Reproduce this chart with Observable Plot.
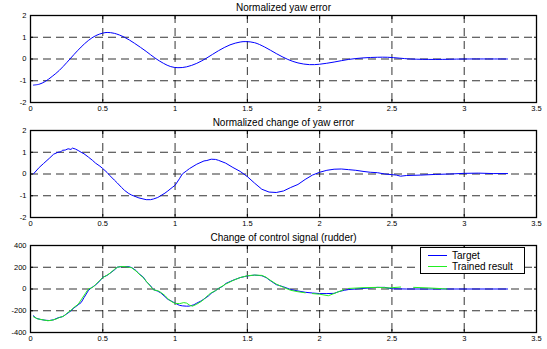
<!DOCTYPE html>
<html><head><meta charset="utf-8">
<script src="https://cdn.jsdelivr.net/npm/d3@7"></script>
<script src="https://cdn.jsdelivr.net/npm/@observablehq/plot@0.6"></script>
<style>
body{margin:0;background:#fff;}
#wrap{position:relative;width:547px;height:349px;overflow:hidden;}
#wrap svg{display:block;}
.legend{position:absolute;left:420px;top:247px;width:105px;height:27px;box-sizing:border-box;border:1px solid #000;background:#fff;font:10px "Liberation Sans",Arial,sans-serif;color:#000;}
.legend .row{position:absolute;left:0;height:11px;line-height:11px;white-space:nowrap;}
.legend .sw{position:absolute;left:7px;top:5px;width:19px;height:0;border-top:1px solid;}
.legend .lab{position:absolute;left:31px;top:0;}
</style></head>
<body>
<div id="wrap"></div>
<script>
const xTicks = [0, 0.5, 1, 1.5, 2, 2.5, 3, 3.5];
const normTicks = [-2, -1, 0, 1, 2];
const ctrlTicks = [-400, -200, 0, 200, 400];
const titles = ["Normalized yaw error", "Normalized change of yaw error", "Change of control signal (rudder)"];
const legendLabels = ["Target", "Trained result"];
const colors = ["#0000ff", "#22ee22"];

const yawX = [0.02,0.06,0.1,0.15,0.2,0.25,0.3,0.35,0.4,0.45,0.5,0.53,0.58,0.65,0.72,0.8,0.86,0.92,0.97,1.02,1.08,1.15,1.22,1.3,1.38,1.45,1.49,1.55,1.62,1.7,1.78,1.85,1.93,2.0,2.1,2.2,2.3,2.4,2.47,2.55,2.63,2.8,3.0,3.3];
const yawY = [-1.2,-1.16,-1.04,-0.8,-0.52,-0.17,0.2,0.55,0.85,1.07,1.19,1.22,1.18,1.0,0.72,0.35,0.05,-0.2,-0.35,-0.4,-0.36,-0.2,0.05,0.38,0.65,0.78,0.8,0.75,0.55,0.25,-0.02,-0.18,-0.26,-0.24,-0.14,-0.02,0.05,0.08,0.08,0.04,0.0,-0.02,0.0,0.0];

const dyawX = [0.02,0.06,0.09,0.13,0.16,0.19,0.21,0.22,0.24,0.26,0.28,0.29,0.31,0.33,0.35,0.37,0.4,0.43,0.45,0.48,0.5,0.53,0.55,0.58,0.6,0.63,0.65,0.68,0.7,0.75,0.8,0.83,0.85,0.88,0.9,0.93,0.95,0.98,1.0,1.03,1.05,1.08,1.1,1.15,1.2,1.22,1.25,1.28,1.3,1.35,1.4,1.45,1.5,1.55,1.6,1.65,1.7,1.75,1.8,1.85,1.9,1.95,2.0,2.05,2.1,2.15,2.2,2.25,2.3,2.35,2.4,2.45,2.5,2.53,2.56,2.6,2.7,2.8,2.9,3.0,3.1,3.2,3.3];
const dyawY = [0,0.3,0.48,0.72,0.91,1.0,1.02,1.09,1.1,1.16,1.13,1.19,1.15,1.08,1.0,0.93,0.78,0.62,0.5,0.36,0.25,0.07,-0.08,-0.28,-0.41,-0.62,-0.75,-0.9,-0.97,-1.1,-1.18,-1.18,-1.15,-1.08,-1.0,-0.88,-0.78,-0.62,-0.52,-0.22,0.0,0.15,0.25,0.45,0.6,0.62,0.68,0.67,0.63,0.5,0.3,0.12,-0.12,-0.42,-0.7,-0.83,-0.85,-0.78,-0.62,-0.48,-0.25,-0.05,0.08,0.17,0.22,0.23,0.2,0.17,0.12,0.08,0.06,0.0,-0.03,-0.05,-0.1,-0.07,-0.05,-0.02,0.0,0.03,0.04,0.02,0.02];

const targetX = [0.02,0.04,0.07,0.1,0.13,0.16,0.19,0.22,0.25,0.28,0.3,0.33,0.35,0.37,0.4,0.42,0.45,0.48,0.5,0.53,0.55,0.58,0.6,0.62,0.65,0.68,0.7,0.73,0.75,0.78,0.8,0.83,0.85,0.88,0.9,0.93,0.95,0.98,1.0,1.03,1.05,1.08,1.1,1.13,1.15,1.18,1.2,1.23,1.25,1.28,1.3,1.33,1.35,1.4,1.45,1.5,1.55,1.6,1.63,1.65,1.7,1.75,1.8,1.85,1.9,1.95,2.0,2.05,2.1,2.13,2.17,2.2,2.3,2.4,2.45,2.5,2.6,2.8,3.0,3.3];
const targetY = [-246,-270,-280,-287,-290,-283,-265,-255,-230,-200,-175,-145,-125,-80,-15,10,37,75,108,125,145,175,200,205,206,205,197,170,140,110,70,30,-5,-20,-35,-70,-95,-115,-130,-150,-155,-158,-157,-145,-130,-110,-92,-65,-40,-15,5,25,50,80,105,120,128,122,105,85,40,20,-5,-18,-30,-37,-42,-42,-40,-25,-12,-5,5,15,15,2,0,0,0,0];

const trainedSeg = [1,1,1,1,1,1,1,1,1,1,1,1,1,1,1,1,1,1,1,1,1,1,1,1,1,1,1,1,1,1,1,1,1,1,1,1,1,1,1,1,1,1,1,1,1,1,1,1,1,1,1,1,1,1,1,1,1,1,1,1,1,1,1,2,2,2,2,2,3,3,3,3,3,4,4,4,4];
const trainedX = [0.02,0.05,0.08,0.12,0.15,0.18,0.2,0.23,0.25,0.28,0.3,0.33,0.35,0.38,0.4,0.43,0.45,0.48,0.5,0.53,0.55,0.58,0.6,0.63,0.66,0.7,0.73,0.75,0.78,0.8,0.83,0.85,0.88,0.9,0.93,0.95,0.98,1.0,1.03,1.06,1.08,1.1,1.12,1.15,1.18,1.2,1.23,1.25,1.28,1.3,1.35,1.4,1.45,1.5,1.55,1.6,1.63,1.65,1.7,1.75,1.8,1.85,1.9,1.95,2.0,2.03,2.06,2.17,2.2,2.3,2.4,2.48,2.56,2.65,2.75,2.85,2.88,2.98,3.1,3.2,3.3];
const trainedY = [-255,-275,-282,-292,-287,-275,-262,-250,-225,-195,-170,-140,-100,-40,0,15,40,80,105,128,145,180,200,207,205,195,165,138,105,72,25,-8,-15,-30,-60,-90,-120,-132,-135,-125,-130,-148,-158,-140,-115,-95,-55,-35,-15,5,45,78,105,122,128,125,108,88,45,15,-12,-25,-35,-42,-48,-55,-62,-5,5,12,15,10,18,15,10,3,0,0,2,3,0];

function panel(title, yDomain, yTicks, lineMarks) {
  const gridStyle = {stroke: "#000", strokeOpacity: 0.8, strokeWidth: 1, strokeDasharray: "8,5"};
  const blank = () => "";
  return Plot.plot({
    width: 547, height: 115,
    marginLeft: 30, marginRight: 11, marginTop: 15, marginBottom: 13,
    style: {fontFamily: "'Liberation Sans', Arial, sans-serif", fontSize: "7.5px", background: "#fff", color: "#000", overflow: "visible"},
    x: {domain: [xTicks[0], xTicks[xTicks.length - 1]], label: null},
    y: {domain: yDomain, label: null},
    marks: [
      Plot.gridX(xTicks.slice(1, -1), gridStyle),
      Plot.gridY(yTicks.slice(1, -1), gridStyle),
      ...lineMarks,
      Plot.axisX(xTicks, {anchor: "bottom", tickSize: 0, tickPadding: 3, tickFormat: d => String(d), label: null}),
      Plot.axisX(xTicks, {anchor: "bottom", tickSize: -3, tickFormat: blank, label: null}),
      Plot.axisX(xTicks, {anchor: "top", tickSize: -3, tickFormat: blank, label: null}),
      Plot.axisY(yTicks, {anchor: "left", tickSize: 0, tickPadding: 4, tickFormat: d => String(d), label: null}),
      Plot.axisY(yTicks, {anchor: "left", tickSize: -3, tickFormat: blank, label: null}),
      Plot.axisY(yTicks, {anchor: "right", tickSize: -3, tickFormat: blank, label: null}),
      Plot.frame({stroke: "#000", strokeWidth: 1.3}),
      Plot.text([title], {text: d => d, frameAnchor: "top", lineAnchor: "bottom", dy: -5, fontSize: 10})
    ]
  });
}

const wrap = document.getElementById("wrap");
wrap.appendChild(panel(titles[0], [normTicks[0], normTicks[4]], normTicks, [
  Plot.line(d3.zip(yawX, yawY), {stroke: colors[0], strokeWidth: 1, curve: "catmull-rom"})
]));
wrap.appendChild(panel(titles[1], [normTicks[0], normTicks[4]], normTicks, [
  Plot.line(d3.zip(dyawX, dyawY), {stroke: colors[0], strokeWidth: 1})
]));
wrap.appendChild(panel(titles[2], [ctrlTicks[0], ctrlTicks[4]], ctrlTicks, [
  Plot.line(d3.zip(targetX, targetY), {stroke: colors[0], strokeWidth: 1}),
  Plot.line(d3.zip(trainedX, trainedY, trainedSeg), {x: d => d[0], y: d => d[1], z: d => d[2], stroke: colors[1], strokeWidth: 1})
]));

const legend = document.createElement("div");
legend.className = "legend";
legendLabels.forEach((lab, i) => {
  const row = document.createElement("div");
  row.className = "row";
  row.style.top = (2 + i * 11) + "px";
  row.innerHTML = `<span class="sw" style="border-color:${colors[i]}"></span><span class="lab">${lab}</span>`;
  legend.appendChild(row);
});
wrap.appendChild(legend);
</script>
</body></html>
